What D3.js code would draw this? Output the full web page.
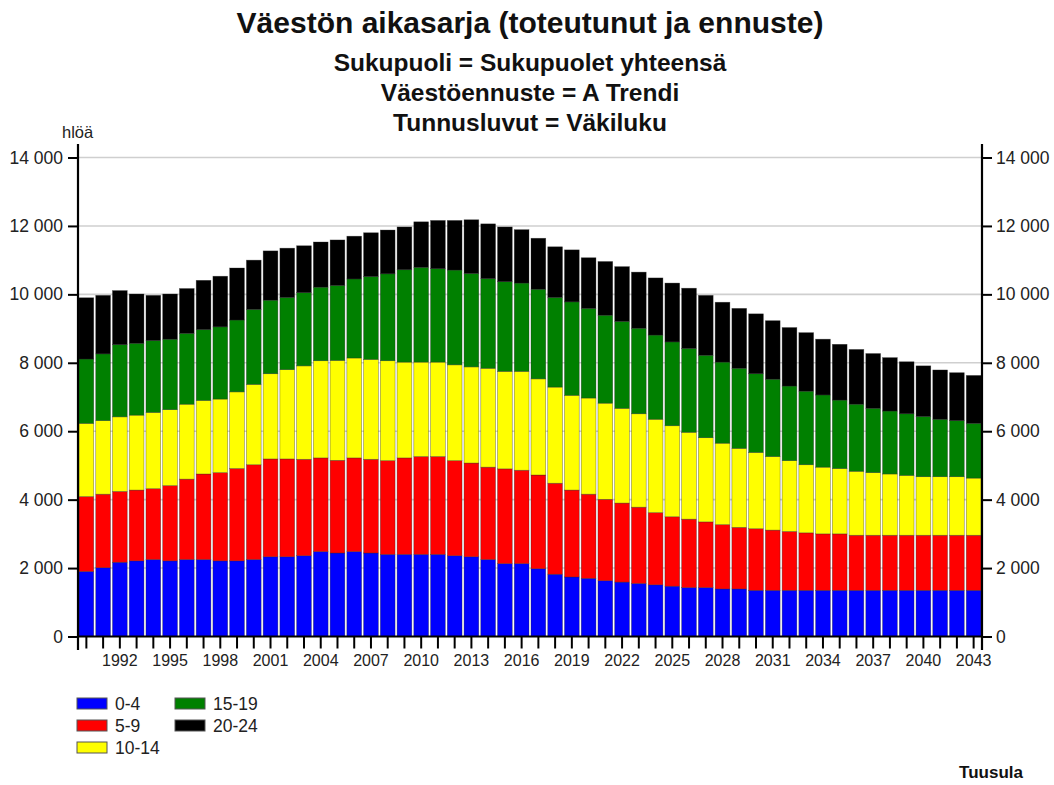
<!DOCTYPE html>
<html>
<head>
<meta charset="utf-8">
<script src="https://cdn.jsdelivr.net/npm/d3@7"></script>
<style>
  html, body { margin: 0; padding: 0; background: #fff; }
  svg { display: block; font-family: "Liberation Sans", Arial, sans-serif; }
</style>
</head>
<body>
<svg id="chart" width="1054" height="785"></svg>
<script>
const years = d3.range(1990, 2044);
const seriesNames = ["0-4", "5-9", "10-14", "15-19", "20-24"];
const seriesColors = ["#0000ff", "#ff0000", "#ffff00", "#008000", "#000000"];

const age0_4 = [1900,2010,2170,2210,2250,2210,2250,2250,2210,2210,2250,2330,2330,2360,2480,2440,2480,2440,2400,2400,
  2400,2400,2360,2330,2250,2130,2130,1980,1820,1740,1700,1630,1590,1550,1510,1470,1430,1430,1390,1390,
  1350,1350,1350,1350,1350,1350,1350,1350,1350,1350,1350,1350,1350,1350];
const age5_9 = [2190,2150,2070,2070,2070,2200,2350,2500,2580,2700,2770,2860,2860,2820,2740,2710,2740,2740,2740,2820,
  2860,2860,2780,2740,2700,2770,2730,2740,2660,2540,2460,2380,2310,2230,2110,2030,2000,1920,1880,1800,
  1800,1760,1720,1680,1650,1650,1610,1610,1610,1610,1610,1610,1610,1610];
const age10_14 = [2140,2150,2180,2190,2230,2220,2190,2150,2150,2240,2350,2490,2610,2730,2840,2920,2920,2920,2920,2800,
  2760,2760,2800,2810,2890,2850,2890,2810,2810,2770,2810,2810,2770,2730,2730,2660,2540,2460,2380,2310,
  2230,2150,2070,1990,1950,1910,1870,1830,1790,1750,1710,1710,1710,1670];
const age15_19 = [1880,1950,2110,2100,2100,2060,2070,2070,2110,2100,2190,2150,2110,2140,2150,2190,2310,2420,2540,2700,
  2770,2730,2770,2730,2620,2620,2580,2620,2620,2730,2620,2570,2540,2500,2460,2450,2450,2410,2370,2340,
  2300,2260,2180,2150,2110,2000,1960,1880,1840,1800,1760,1680,1640,1600];
const age20_24 = [1790,1710,1580,1440,1320,1320,1310,1440,1480,1520,1440,1440,1440,1370,1320,1330,1250,1280,1280,1250,
  1330,1410,1450,1570,1600,1600,1560,1490,1480,1520,1480,1570,1600,1640,1670,1720,1760,1750,1750,1750,
  1750,1710,1710,1710,1630,1630,1600,1600,1560,1520,1480,1440,1400,1400];
const yTicks = [0, 2000, 4000, 6000, 8000, 10000, 12000, 14000];

const titleText = "Väestön aikasarja (toteutunut ja ennuste)";
const subtitles = ["Sukupuoli = Sukupuolet yhteensä", "Väestöennuste = A Trendi", "Tunnusluvut = Väkiluku"];
const unitLabel = "hlöä";
const sourceLabel = "Tuusula";

const seriesData = [age0_4, age5_9, age10_14, age15_19, age20_24];
const table = years.map((yr, i) => {
  const row = { year: yr };
  seriesNames.forEach((s, k) => row[s] = seriesData[k][i]);
  return row;
});

const svg = d3.select("#chart");
const plotLeft = 78, plotRight = 982, plotTop = 157.5, plotBottom = 636.5;
const textColor = "#222";

const x = d3.scaleBand().domain(years).range([plotLeft, plotRight]).paddingInner(0.12).paddingOuter(0.06);
const y = d3.scaleLinear().domain([0, 14000]).range([plotBottom, plotTop]);

// titles
svg.append("text").attr("x", 530).attr("y", 33).attr("text-anchor", "middle")
  .attr("font-size", 30).attr("font-weight", "bold").attr("fill", "#111").text(titleText);
subtitles.forEach((t, i) => {
  svg.append("text").attr("x", 530).attr("y", 71 + i * 30).attr("text-anchor", "middle")
    .attr("font-size", 24.5).attr("font-weight", "bold").attr("fill", "#111").text(t);
});

// gridlines
svg.append("g").selectAll("line").data(yTicks.filter(d => d > 0)).join("line")
  .attr("x1", plotLeft).attr("x2", plotRight).attr("y1", d => y(d)).attr("y2", d => y(d))
  .attr("stroke", "#cfcfcf").attr("stroke-width", 1.6);

// bars
const stack = d3.stack().keys(seriesNames)(table);
svg.append("g").selectAll("g").data(stack).join("g")
  .attr("fill", (d, i) => seriesColors[i])
  .selectAll("rect").data(d => d).join("rect")
  .attr("x", d => x(d.data.year))
  .attr("width", x.bandwidth())
  .attr("y", d => y(d[1]))
  .attr("height", d => y(d[0]) - y(d[1]))
  .attr("stroke", "rgba(40,40,40,0.55)").attr("stroke-width", 0.6);

// axes
const fmt = d => d3.format(",")(d).replace(/,/g, " ");
const yLeft = svg.append("g").attr("transform", `translate(${plotLeft},0)`)
  .call(d3.axisLeft(y).tickValues(yTicks).tickSize(10).tickPadding(5).tickFormat(fmt));
const yRight = svg.append("g").attr("transform", `translate(${plotRight},0)`)
  .call(d3.axisRight(y).tickValues(yTicks).tickSize(10).tickPadding(4).tickFormat(fmt));
const xAxis = svg.append("g").attr("transform", `translate(0,${plotBottom})`)
  .call(d3.axisBottom(x).tickValues(years).tickSize(12).tickPadding(6)
    .tickFormat((d, i) => (i % 3 === 2 ? d : "")));

[yLeft, yRight, xAxis].forEach(g => {
  g.select(".domain").remove();
  g.selectAll(".tick line").attr("stroke", "#000").attr("stroke-width", 2);
  g.selectAll(".tick text").attr("fill", textColor)
    .attr("font-family", "'Liberation Sans', Arial, sans-serif");
});
yLeft.selectAll(".tick text").attr("font-size", 17.5);
yRight.selectAll(".tick text").attr("font-size", 17.5);
xAxis.selectAll(".tick text").attr("font-size", 16);

// axis lines
svg.append("line").attr("x1", plotLeft).attr("x2", plotLeft).attr("y1", 144).attr("y2", 650)
  .attr("stroke", "#000").attr("stroke-width", 2.2);
svg.append("line").attr("x1", plotRight).attr("x2", plotRight).attr("y1", 144).attr("y2", 650)
  .attr("stroke", "#000").attr("stroke-width", 2.2);
svg.append("line").attr("x1", plotLeft).attr("x2", plotRight).attr("y1", plotBottom).attr("y2", plotBottom)
  .attr("stroke", "#000").attr("stroke-width", 2.2);

// unit label
svg.append("text").attr("x", 62).attr("y", 138).attr("font-size", 16.5).attr("fill", textColor).text(unitLabel);

// legend
const legendPos = [[77, 698], [77, 720], [77, 742], [175, 698], [175, 720]];
const lg = svg.append("g").selectAll("g").data(seriesNames).join("g")
  .attr("transform", (d, i) => `translate(${legendPos[i][0]},${legendPos[i][1]})`);
lg.append("rect").attr("width", 30).attr("height", 11)
  .attr("fill", (d, i) => seriesColors[i]).attr("stroke", "#555").attr("stroke-width", 1);
lg.append("text").attr("x", 38).attr("y", 12).attr("font-size", 17.5).attr("fill", textColor).text(d => d);

// source
svg.append("text").attr("x", 1023).attr("y", 778).attr("text-anchor", "end")
  .attr("font-size", 17).attr("font-weight", "bold").attr("fill", "#111").text(sourceLabel);
</script>
</body>
</html>
